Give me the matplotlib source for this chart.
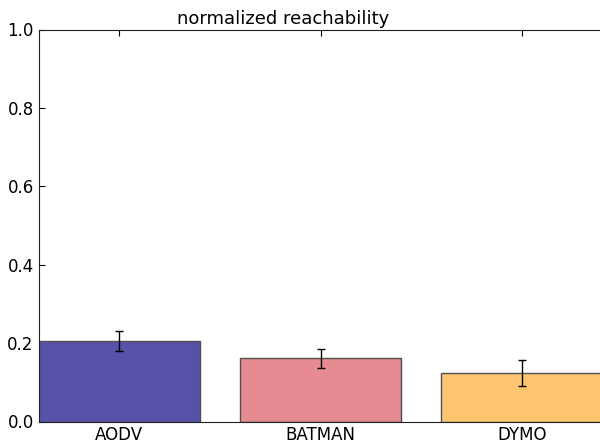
import matplotlib
matplotlib.use("Agg")
import matplotlib.pyplot as plt

# Données
protocoles = ["AODV", "BATMAN", "DYMO"]
reachability = [0.205, 0.161, 0.123]
erreurs = [0.026, 0.024, 0.033]
couleurs = ["#5751aa", "#e58b91", "#fec570"]

plt.rcParams["font.family"] = "DejaVu Sans"
plt.rcParams["font.size"] = 12

fig = plt.figure(figsize=(6, 4.41), dpi=100)
ax = fig.add_axes([38.5 / 600, 1 - 421.5 / 441, 564 / 600, 392 / 441])

positions = range(len(protocoles))
ax.bar(positions, reachability, width=0.8, color=couleurs,
       edgecolor="#505050", linewidth=1.0, zorder=2)
ax.errorbar(positions, reachability, yerr=erreurs, fmt="none",
            ecolor="black", elinewidth=1.0, capsize=3, capthick=1.0, zorder=3)

ax.set_xlim(-0.4, 2.4)
ax.set_ylim(0, 1.0)
ax.set_xticks(list(positions))
ax.set_xticklabels(protocoles)
ax.set_yticks([0.0, 0.2, 0.4, 0.6, 0.8, 1.0])
ax.tick_params(direction="in", top=True, right=False, length=4, width=0.8)
ax.tick_params(axis="x", pad=3)
ax.spines["right"].set_visible(False)
for s in ax.spines.values():
    s.set_color("#222222")

fig.text(283 / 600, 1 - 24 / 441, "normalized reachability",
         ha="center", va="baseline", fontsize=13)

fig.savefig("out.png", dpi=100)
